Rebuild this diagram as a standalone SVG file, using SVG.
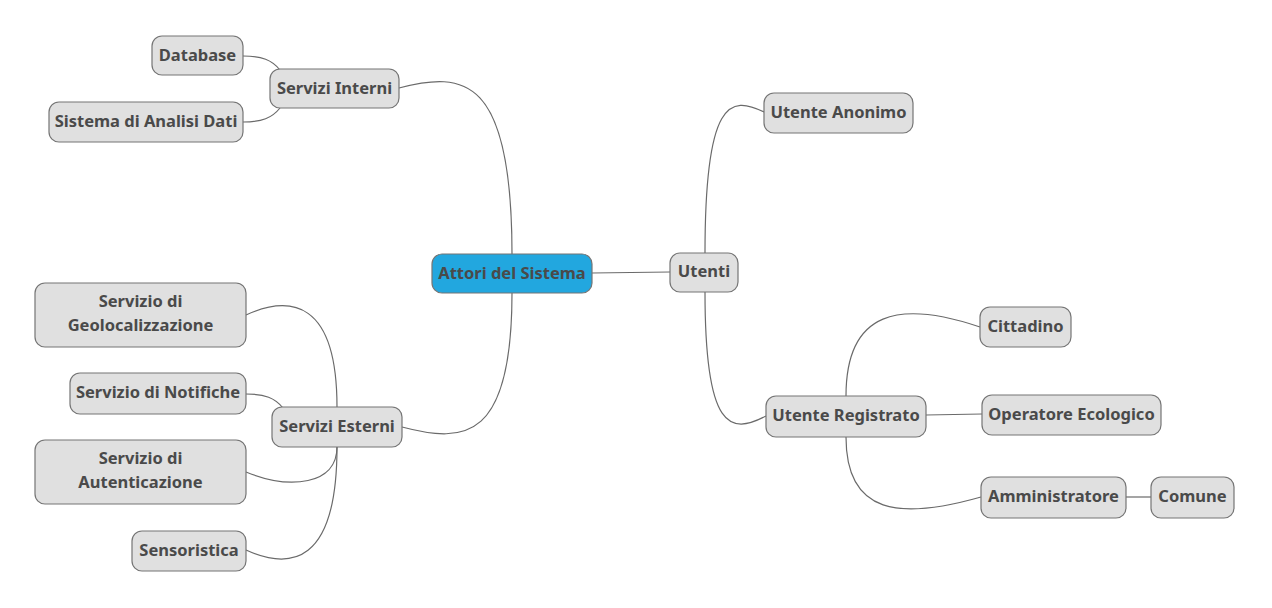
<svg xmlns="http://www.w3.org/2000/svg" width="1272" height="608" viewBox="0 0 1272 608">
<style>
.n rect{fill:#e0e0e0;stroke:#757575;stroke-width:1.2}
.root rect{fill:#22a7df;stroke:#757575;stroke-width:1.2}
text{font-family:"Noto Sans",sans-serif;font-weight:bold;font-size:16.5px;fill:#4a4a4a;text-anchor:middle}
#conn path{fill:none;stroke:#6a6a6a;stroke-width:1.2}
</style>
<rect width="1272" height="608" fill="#ffffff"/>
<g id="conn">
<path d="M512,254 C512,76 464,71 399,88"/>
<path d="M512,293 C512,439 466,444 402,427"/>
<path d="M243,56 C262,56 272,60 280,70"/>
<path d="M243,122 C262,122 272,118 280,108"/>
<path d="M337,407 C337,300 290,295 246,315"/>
<path d="M246,394 C265,394 275,398 283,408"/>
<path d="M337,447 C337,485 290,490 246,472"/>
<path d="M337,447 C337,565 290,570 246,550"/>
<path d="M592,273 L670,272"/>
<path d="M705,253 C705,100 730,95 764,112"/>
<path d="M705,292 C705,430 730,435 766,416"/>
<path d="M846,396 C846,310 900,300 980,327"/>
<path d="M926,415 L982,414"/>
<path d="M846,437 C846,515 900,520 981,497"/>
<path d="M1126,497 L1151,497"/>
</g>
<g id="n-root" class="root"><rect x="432" y="254" width="160" height="39" rx="10"/><text x="512" y="279">Attori del Sistema</text></g>
<g id="n-interni" class="n"><rect x="270" y="69" width="129" height="39" rx="10"/><text x="334.5" y="94">Servizi Interni</text></g>
<g id="n-database" class="n"><rect x="152" y="36" width="91" height="39" rx="10"/><text x="197.5" y="61">Database</text></g>
<g id="n-analisi" class="n"><rect x="49" y="102" width="194" height="40" rx="10"/><text x="146" y="127">Sistema di Analisi Dati</text></g>
<g id="n-esterni" class="n"><rect x="272" y="407" width="130" height="40" rx="10"/><text x="337" y="432">Servizi Esterni</text></g>
<g id="n-geo" class="n"><rect x="35" y="283" width="211" height="64" rx="10"/><text x="140.5" y="307">Servizio di</text><text x="140.5" y="331">Geolocalizzazione</text></g>
<g id="n-notifiche" class="n"><rect x="70" y="373" width="176" height="41" rx="10"/><text x="158" y="398">Servizio di Notifiche</text></g>
<g id="n-auth" class="n"><rect x="35" y="440" width="211" height="64" rx="10"/><text x="140.5" y="464">Servizio di</text><text x="140.5" y="488">Autenticazione</text></g>
<g id="n-sensori" class="n"><rect x="132" y="531" width="114" height="40" rx="10"/><text x="189" y="556">Sensoristica</text></g>
<g id="n-utenti" class="n"><rect x="670" y="253" width="68" height="39" rx="10"/><text x="704" y="277">Utenti</text></g>
<g id="n-anonimo" class="n"><rect x="764" y="93" width="149" height="40" rx="10"/><text x="838.5" y="118">Utente Anonimo</text></g>
<g id="n-registrato" class="n"><rect x="766" y="396" width="160" height="41" rx="10"/><text x="846" y="421">Utente Registrato</text></g>
<g id="n-cittadino" class="n"><rect x="980" y="307" width="91" height="40" rx="10"/><text x="1025.5" y="332">Cittadino</text></g>
<g id="n-operatore" class="n"><rect x="982" y="395" width="179" height="40" rx="10"/><text x="1071.5" y="420">Operatore Ecologico</text></g>
<g id="n-admin" class="n"><rect x="981" y="477" width="145" height="41" rx="10"/><text x="1053.5" y="502">Amministratore</text></g>
<g id="n-comune" class="n"><rect x="1151" y="477" width="83" height="41" rx="10"/><text x="1192.5" y="502">Comune</text></g>
</svg>
